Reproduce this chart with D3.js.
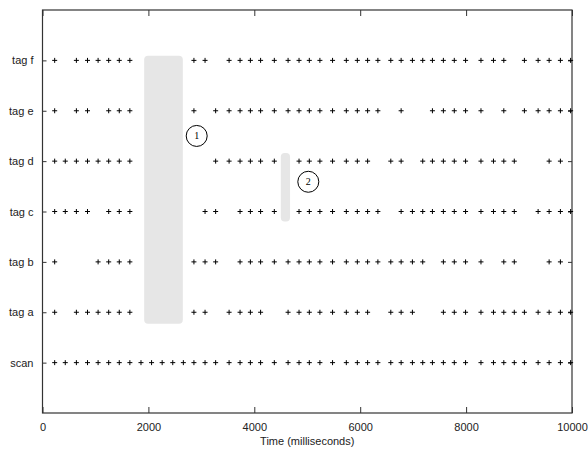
<!DOCTYPE html>
<html><head><meta charset="utf-8">
<script src="https://cdn.jsdelivr.net/npm/d3@7"></script>
<style>body{margin:0;background:#fff}svg{display:block}</style>
</head><body><svg id="c" width="588" height="450"></svg>
<script>
const rows = ["scan","tag a","tag b","tag c","tag d","tag e","tag f"];
const xTicks = [0,2000,4000,6000,8000,10000];
const scan = [230,430,640,850,1050,1250,1450,1650,1860,2060,2260,2460,2660,2860,3070,3270,3524,3731,3926,4119,4378,4638,4845,5039,5239,5478,5738,5946,6140,6334,6578,6773,6986,7181,7364,7571,7777,7990,8281,8517,8712,8910,9101,9360,9568,9781,9974];
const tagA = [230,640,850,1050,1250,1450,1650,2860,3070,3524,3731,3926,4119,4638,4845,5039,5239,5478,5738,5946,6140,6578,6773,6986,7571,7777,7990,8281,8517,8712,8910,9101,9360,9568,9781,9974];
const tagB = [230,1050,1250,1450,1650,2860,3070,3270,3731,3926,4119,4378,4638,4845,5039,5239,5478,5738,5946,6140,6334,6578,6773,6986,7181,7571,7777,7990,8281,8712,8910,9568,9781];
const tagC = [230,430,640,850,1250,1450,1650,3070,3270,3731,3926,4119,4378,4845,5039,5239,5478,5738,5946,6140,6334,6773,6986,7181,7364,7571,7777,7990,8281,8517,8712,8910,9360,9568,9781,9974];
const tagD = [230,430,640,850,1050,1250,1450,1650,3270,3524,3731,3926,4119,4378,4845,5039,5239,5478,5738,5946,6140,6578,6773,7181,7364,7571,7777,7990,8281,8517,8712,8910,9568,9781];
const tagE = [230,640,850,1250,1450,1650,2860,3270,3524,3731,3926,4119,4378,4638,4845,5039,5239,5478,5738,5946,6140,6334,6773,7364,7571,7777,7990,8281,8712,9101,9360,9568,9781,9974];
const tagF = [230,640,850,1050,1250,1450,1650,2860,3070,3524,3731,3926,4119,4378,4638,4845,5039,5239,5478,5738,5946,6140,6334,6578,6773,6986,7181,7364,7571,7777,7990,8281,8517,8712,9101,9360,9568,9781,9974];
const series = [scan,tagA,tagB,tagC,tagD,tagE,tagF];
// gray gap regions [t0,t1,yLow,yHigh] in row units
const gapT0 = [1920, 4500];
const gapT1 = [2650, 4675];
const gapY0 = [1.77, 3.80];
const gapY1 = [7.09, 5.16];
// circled labels
const noteText = ["1","2"];
const noteT = [2912, 5020];
const noteY = [5.50, 4.59];

const svg = d3.select("#c");
const L=42.5, R=572, T=10, B=413;
const x = d3.scaleLinear().domain([0,10000]).range([L,R]);
const y = d3.scaleLinear().domain([0,8]).range([B,T]);

// gaps
svg.selectAll("rect.gap").data(gapT0).join("rect").attr("class","gap")
  .attr("x",(d,i)=>x(d)).attr("width",(d,i)=>x(gapT1[i])-x(d))
  .attr("y",(d,i)=>y(gapY1[i])).attr("height",(d,i)=>y(gapY0[i])-y(gapY1[i]))
  .attr("rx",4).attr("ry",4).attr("fill","#e6e6e6");

// frame
svg.append("rect").attr("x",L).attr("y",T).attr("width",R-L).attr("height",B-T)
  .attr("fill","none").attr("stroke","#333").attr("stroke-width",1.2);

// axes
const font = "'Liberation Sans', Arial, sans-serif";
const xb = svg.append("g").attr("transform",`translate(0,${B})`)
  .call(d3.axisBottom(x).tickValues(xTicks).tickSize(-6).tickPadding(10).tickFormat(d3.format("d")));
const xt = svg.append("g").attr("transform",`translate(0,${T})`)
  .call(d3.axisTop(x).tickValues(xTicks).tickSize(-6).tickFormat(""));
const yl = svg.append("g").attr("transform",`translate(${L},0)`)
  .call(d3.axisLeft(y).tickValues(d3.range(1,8)).tickSize(-4).tickPadding(9).tickFormat(d=>rows[d-1]));
const yr = svg.append("g").attr("transform",`translate(${R},0)`)
  .call(d3.axisRight(y).tickValues(d3.range(1,8)).tickSize(-4).tickFormat(""));
[xb,xt,yl,yr].forEach(g=>{
  g.select(".domain").remove();
  g.selectAll(".tick line").attr("stroke","#333");
  g.selectAll("text").attr("font-family",font).attr("font-size",11).attr("fill","#222");
});

svg.append("text").attr("x",(L+R)/2).attr("y",445).attr("text-anchor","middle")
  .attr("font-family",font).attr("font-size",11).attr("fill","#222").text("Time (milliseconds)");

// plus marks
const plus = "M-2.5,0H2.5M0,-2.5V2.5";
series.forEach((s,i)=>{
  svg.append("g").selectAll("path").data(s).join("path")
    .attr("d",plus).attr("transform",d=>`translate(${x(d)},${y(i+1)})`)
    .attr("stroke","#000").attr("stroke-width",1).attr("fill","none");
});

// notes
const ng = svg.selectAll("g.note").data(noteText).join("g").attr("class","note")
  .attr("transform",(d,i)=>`translate(${x(noteT[i])},${y(noteY[i])})`);
ng.append("circle").attr("r",10.5).attr("fill","none").attr("stroke","#000").attr("stroke-width",1);
ng.append("text").attr("text-anchor","middle").attr("dy","0.35em")
  .attr("font-family","'Liberation Serif','Times New Roman',serif").attr("font-size",10).text(d=>d);
</script></body></html>
